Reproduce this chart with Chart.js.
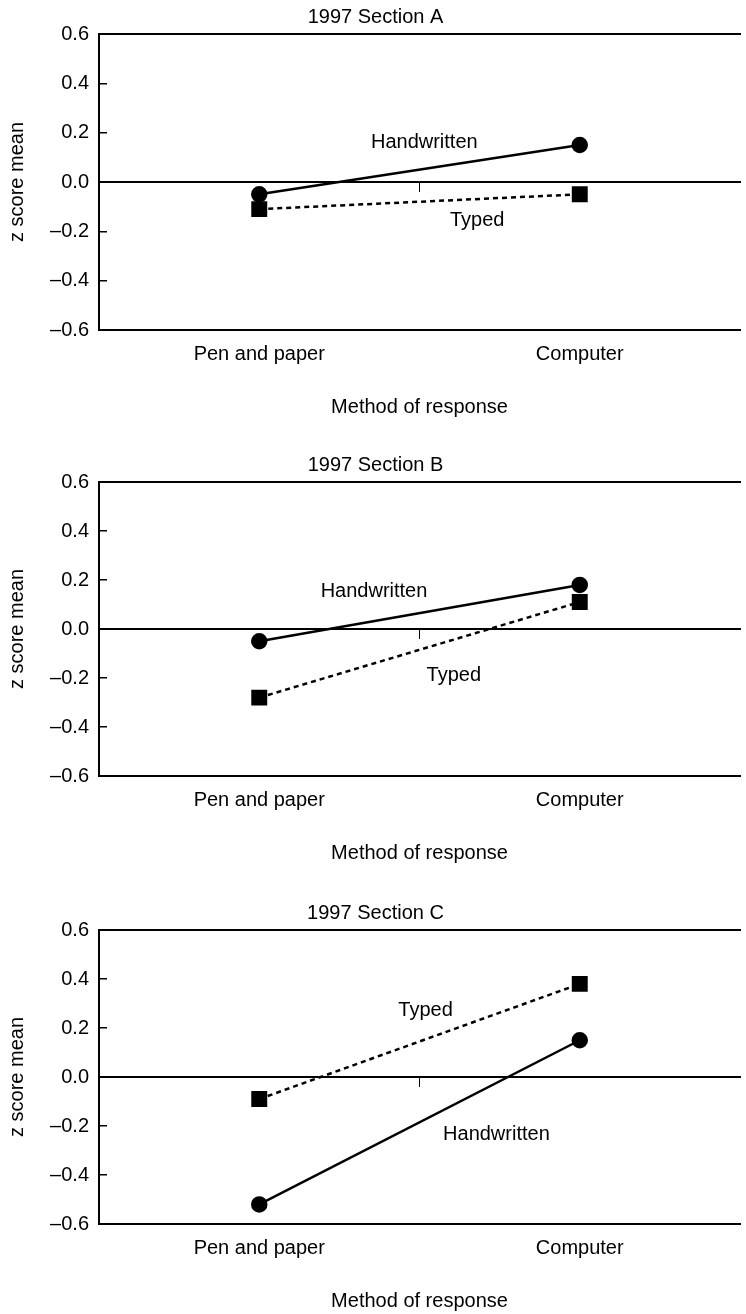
<!DOCTYPE html>
<html><head><meta charset="utf-8">
<script src="https://cdn.jsdelivr.net/npm/chart.js@4.4.1/dist/chart.umd.min.js"></script>
<style>
html,body{margin:0;padding:0;background:#fff;overflow:hidden;width:746px;height:1314px;}
.panel{position:absolute;left:0;width:752px;}
canvas{display:block;}
</style></head><body>
<div class="panel" style="top:0px;height:423px"><canvas id="cA" width="752" height="423"></canvas></div>
<div class="panel" style="top:448px;height:421px"><canvas id="cB" width="752" height="421"></canvas></div>
<div class="panel" style="top:896px;height:421px"><canvas id="cC" width="752" height="421"></canvas></div>
<script>
// ---- data ----
const categories = ['Pen and paper', 'Computer'];
const yTicks = [-0.6, -0.4, -0.2, 0, 0.2, 0.4, 0.6];
const seriesNames = ['Handwritten', 'Typed'];
const titles = ['1997 Section A', '1997 Section B', '1997 Section C'];
const xTitle = 'Method of response';
const yTitle = 'z score mean';

const handwrittenA = [-0.05, 0.15];
const typedA = [-0.11, -0.05];
const handwrittenB = [-0.05, 0.18];
const typedB = [-0.28, 0.11];
const handwrittenC = [-0.52, 0.15];
const typedC = [-0.09, 0.38];

// in-plot series labels, in data units: [category index, z value] for Handwritten, Typed
const labelPosA = [[0.515, 0.16], [0.68, -0.155]];
const labelPosB = [[0.358, 0.155], [0.607, -0.19]];
const labelPosC = [[0.74, -0.235], [0.519, 0.27]];

// ---- styling ----
const FONT = '"Liberation Sans", Arial, Helvetica, sans-serif';
const FS = 20;
Chart.defaults.font.family = FONT;
Chart.defaults.font.size = FS;
Chart.defaults.color = '#000';

const seriesLabelPlugin = {
  id: 'seriesLabels',
  afterDatasetsDraw(chart, args, opts) {
    const {ctx, scales: {x, y}} = chart;
    ctx.save();
    ctx.fillStyle = '#000';
    ctx.font = FS + 'px ' + FONT;
    ctx.textAlign = 'center';
    ctx.textBaseline = 'middle';
    opts.positions.forEach((p, i) => {
      ctx.fillText(seriesNames[i], x.getPixelForValue(p[0]), y.getPixelForValue(p[1]));
    });
    ctx.restore();
  }
};

function fmt(v) {
  const s = Math.abs(v).toFixed(1);
  return (v < -1e-9 ? '\u2013' : '') + s;
}

function makeChart(id, title, hw, ty, pos) {
  return new Chart(document.getElementById(id), {
    type: 'line',
    data: {
      labels: categories,
      datasets: [
        {
          label: seriesNames[0], data: hw, xAxisID: 'x', yAxisID: 'y',
          borderColor: '#000', backgroundColor: '#000', borderWidth: 2.5,
          pointStyle: 'circle', pointRadius: 7, pointHoverRadius: 7, clip: false
        },
        {
          label: seriesNames[1], data: ty, xAxisID: 'x', yAxisID: 'y',
          borderColor: '#000', backgroundColor: '#000', borderWidth: 2.5, borderDash: [5, 4],
          pointStyle: 'rect', pointRadius: 9.5, pointHoverRadius: 9.5, clip: false
        }
      ]
    },
    options: {
      responsive: false,
      animation: false,
      devicePixelRatio: 1,
      layout: {padding: {left: 0, right: 1, top: 0, bottom: 0}},
      plugins: {
        legend: {display: false},
        tooltip: {enabled: false},
        title: {display: true, text: title, color: '#000', font: {size: FS, weight: 'normal'}, padding: {top: 5, bottom: 5}},
        seriesLabels: {positions: pos}
      },
      scales: {
        x: {
          type: 'category', position: 'bottom', offset: true,
          grid: {display: true, drawOnChartArea: false, drawTicks: false},
          border: {display: true, color: '#000', width: 2},
          ticks: {color: '#000', padding: 12, font: {size: FS}},
          title: {display: true, text: xTitle, color: '#000', font: {size: FS}, padding: {top: 17, bottom: 4}}
        },
        xt: {
          type: 'category', position: 'top', labels: categories, offset: true,
          grid: {display: true, drawOnChartArea: false, drawTicks: false},
          border: {display: true, color: '#000', width: 2},
          ticks: {display: false}
        },
        xz: {
          type: 'category', position: {y: 0}, labels: categories, offset: true,
          grid: {display: true, offset: true, drawOnChartArea: false, drawTicks: true, tickLength: 9, lineWidth: 1,
                 color: (c) => c.index === 1 ? '#000' : 'rgba(0,0,0,0)'},
          border: {display: true, color: '#000', width: 2},
          ticks: {display: false}
        },
        y: {
          type: 'linear', position: 'left', min: -0.6, max: 0.6,
          afterBuildTicks: (s) => { s.ticks = yTicks.map(v => ({value: v})); },
          afterFit: (s) => { s.width = 99; },
          grid: {display: true, drawOnChartArea: false, drawTicks: true, tickLength: -8, lineWidth: 1.5, color: '#000'},
          border: {display: true, color: '#000', width: 2},
          ticks: {color: '#000', padding: 18, font: {size: FS}, callback: (v) => fmt(v)},
          title: {display: true, text: yTitle, color: '#000', font: {size: FS}, padding: {top: 5, bottom: 0}}
        }
      }
    },
    plugins: [seriesLabelPlugin]
  });
}

makeChart('cA', titles[0], handwrittenA, typedA, labelPosA);
makeChart('cB', titles[1], handwrittenB, typedB, labelPosB);
makeChart('cC', titles[2], handwrittenC, typedC, labelPosC);
</script>
</body></html>
